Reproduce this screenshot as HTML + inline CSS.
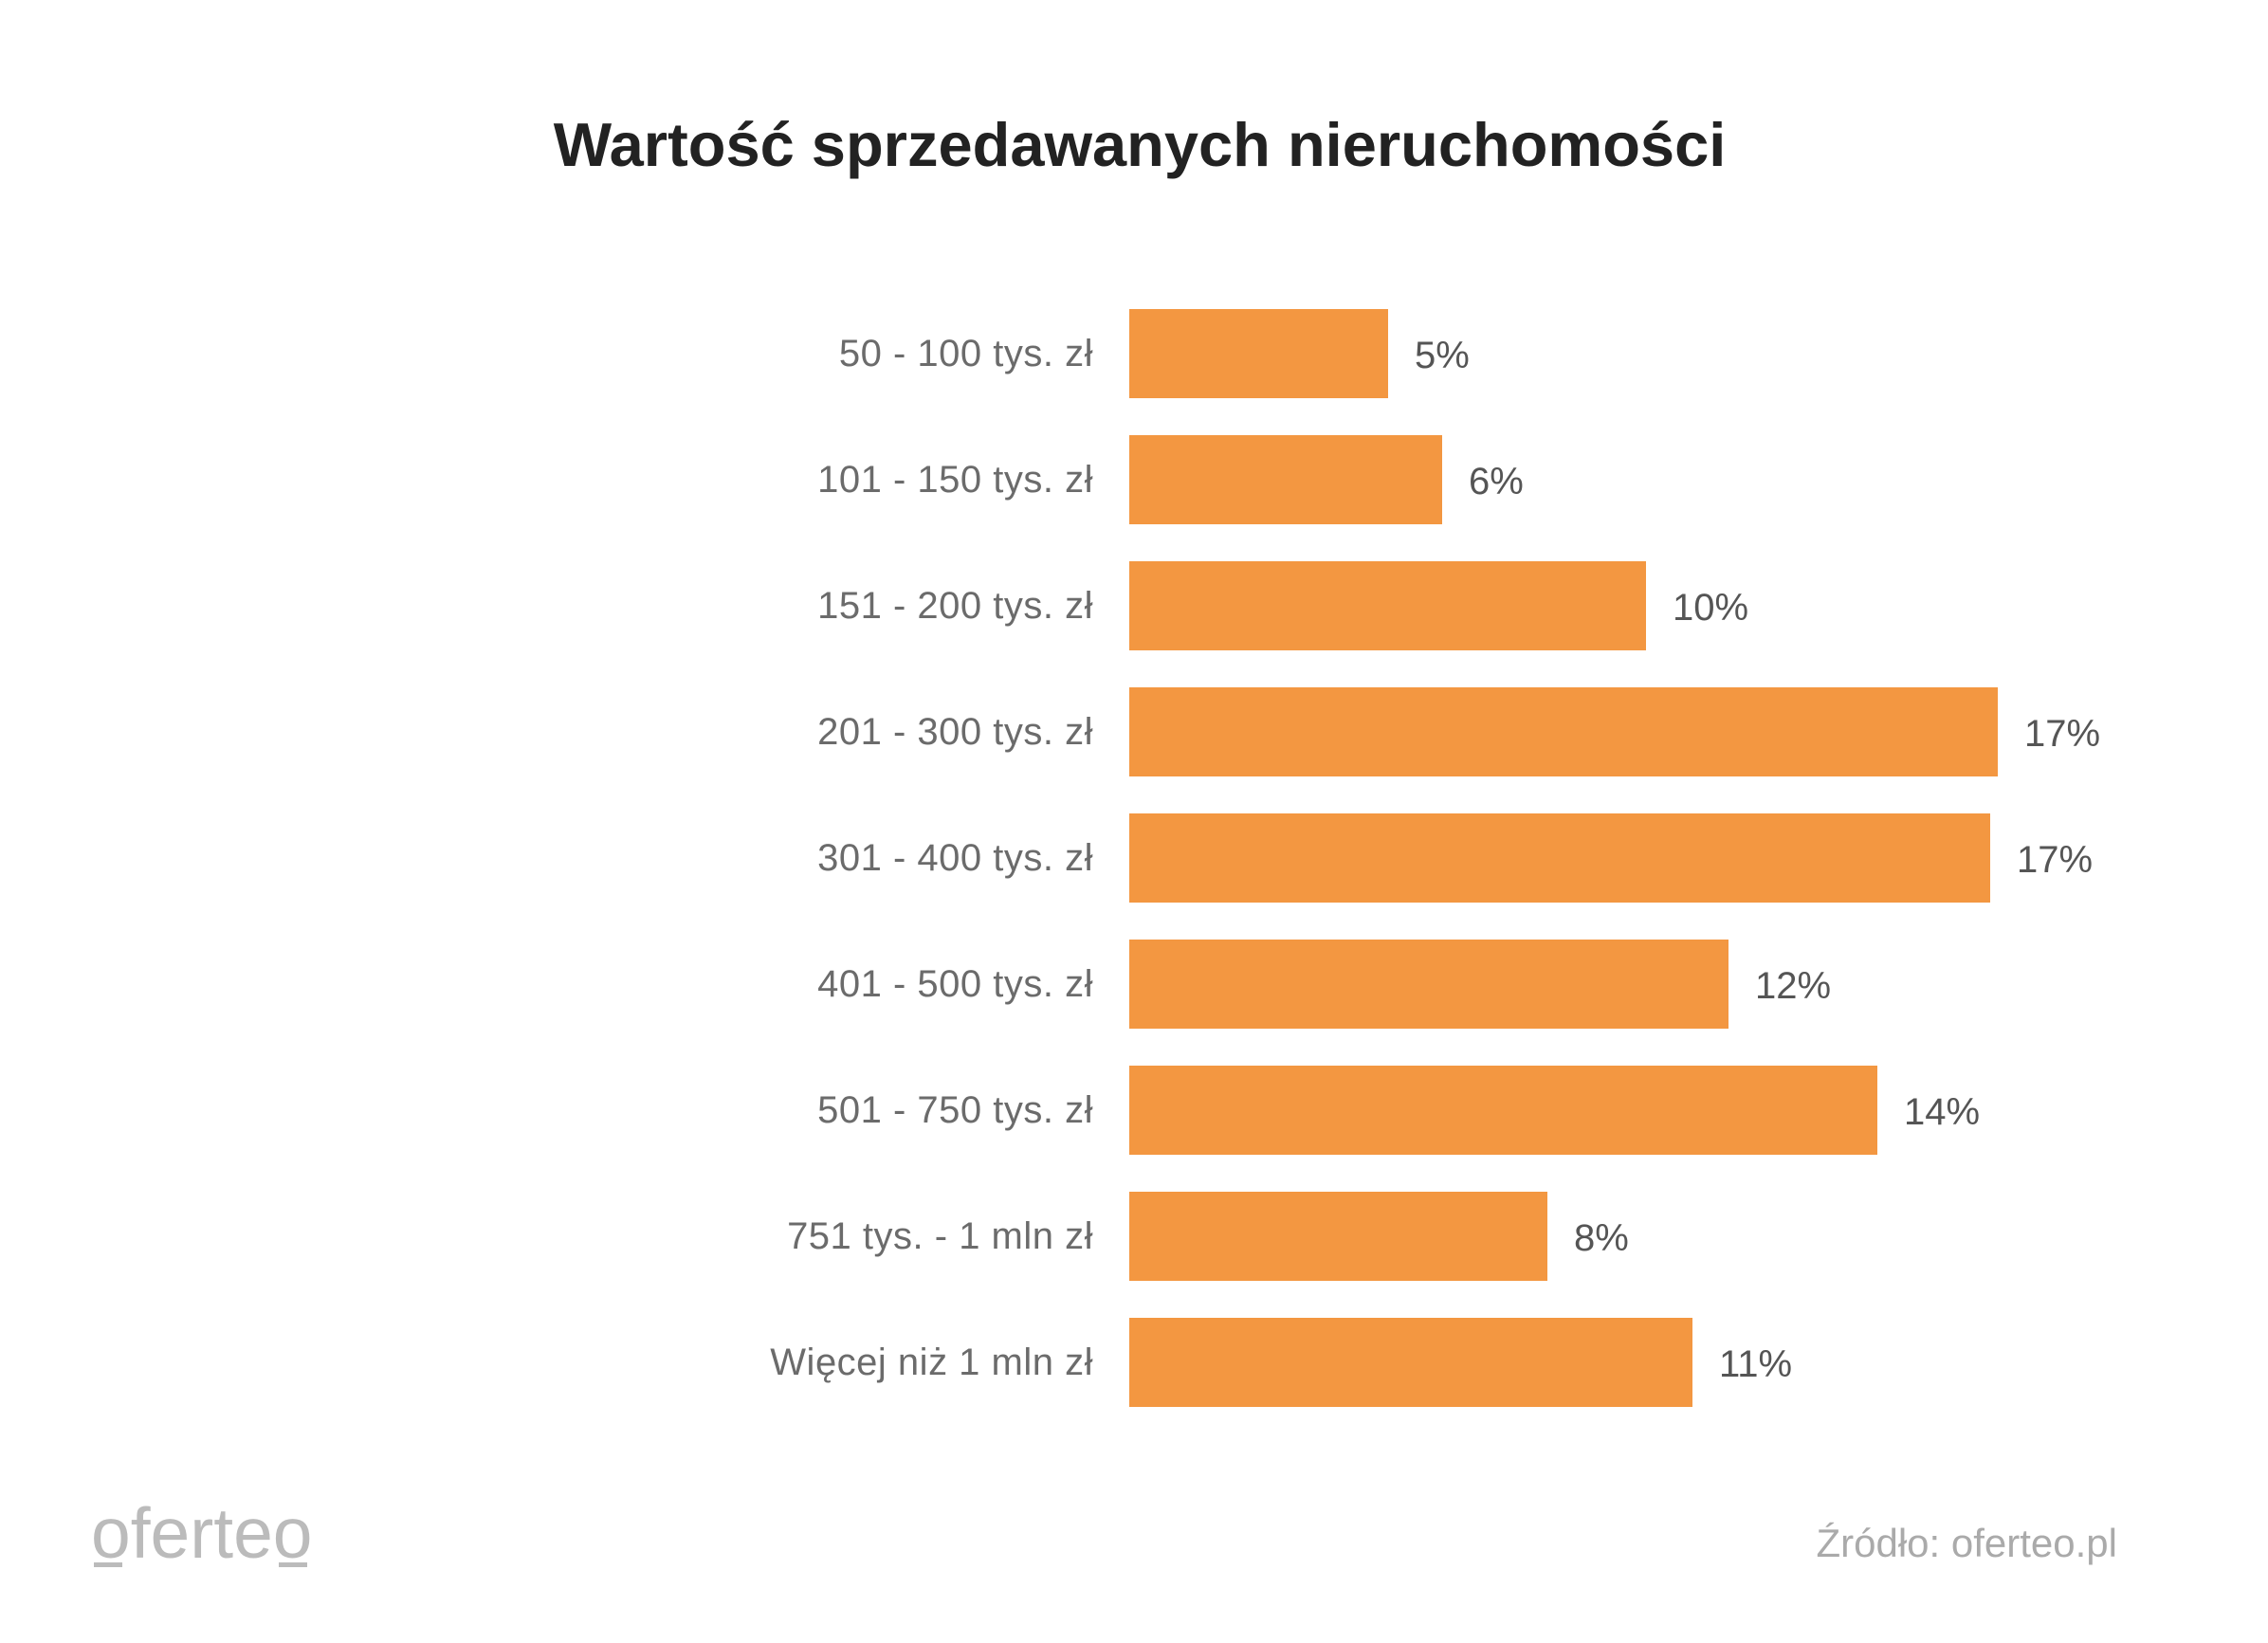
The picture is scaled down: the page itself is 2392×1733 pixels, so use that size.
<!DOCTYPE html>
<html><head><meta charset="utf-8"><style>
body{margin:0;width:2392px;height:1733px;background:#fff;position:relative;overflow:hidden;font-family:"Liberation Sans",sans-serif}
.t{position:absolute;white-space:nowrap}
.bar{position:absolute;left:1191px;height:94px;background:#f39741}
.lab{position:absolute;right:1239px;font-size:40px;color:#6b6b6b;line-height:94px;letter-spacing:0.5px}
.val{position:absolute;font-size:40px;color:#555;line-height:94px}
</style></head><body>
<div class="t" style="left:0;width:2404px;text-align:center;top:115px;font-size:65px;font-weight:bold;color:#222">Wartość sprzedawanych nieruchomości</div>

<div class="lab" style="top:326px">50 - 100 tys. zł</div><div class="bar" style="top:326px;width:273px"></div><div class="val" style="top:328px;left:1492px">5%</div>
<div class="lab" style="top:459px">101 - 150 tys. zł</div><div class="bar" style="top:459px;width:330px"></div><div class="val" style="top:461px;left:1549px">6%</div>
<div class="lab" style="top:592px">151 - 200 tys. zł</div><div class="bar" style="top:592px;width:545px"></div><div class="val" style="top:594px;left:1764px">10%</div>
<div class="lab" style="top:725px">201 - 300 tys. zł</div><div class="bar" style="top:725px;width:916px"></div><div class="val" style="top:727px;left:2135px">17%</div>
<div class="lab" style="top:858px">301 - 400 tys. zł</div><div class="bar" style="top:858px;width:908px"></div><div class="val" style="top:860px;left:2127px">17%</div>
<div class="lab" style="top:991px">401 - 500 tys. zł</div><div class="bar" style="top:991px;width:632px"></div><div class="val" style="top:993px;left:1851px">12%</div>
<div class="lab" style="top:1124px">501 - 750 tys. zł</div><div class="bar" style="top:1124px;width:789px"></div><div class="val" style="top:1126px;left:2008px">14%</div>
<div class="lab" style="top:1257px">751 tys. - 1 mln zł</div><div class="bar" style="top:1257px;width:441px"></div><div class="val" style="top:1259px;left:1660px">8%</div>
<div class="lab" style="top:1390px">Więcej niż 1 mln zł</div><div class="bar" style="top:1390px;width:594px"></div><div class="val" style="top:1392px;left:1813px">11%</div>

<div class="t" style="left:96px;top:1574px;font-size:75px;color:#bbb">oferteo</div>
<div style="position:absolute;left:99px;top:1648px;width:30px;height:5px;background:#bbb"></div>
<div style="position:absolute;left:294px;top:1648px;width:30px;height:5px;background:#bbb"></div>
<div class="t" style="right:159px;top:1604px;font-size:42px;color:#aaa">Źródło: oferteo.pl</div>
</body></html>
